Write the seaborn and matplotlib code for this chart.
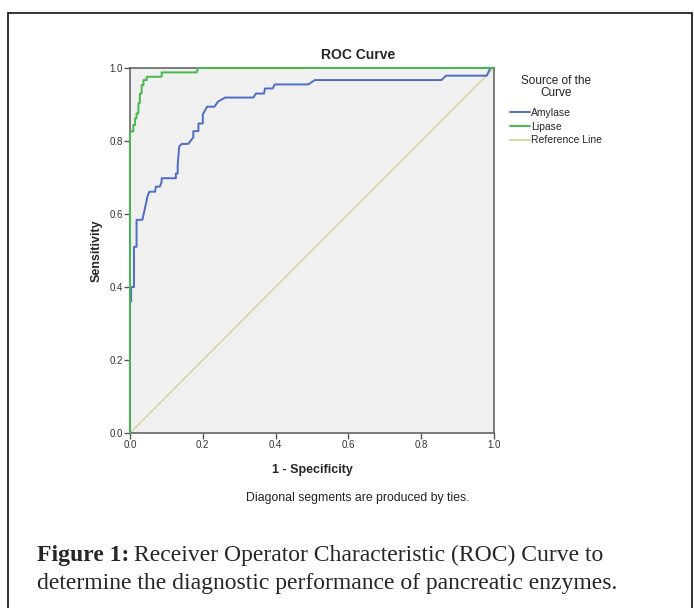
import matplotlib
matplotlib.use("Agg")
import matplotlib.pyplot as plt
import seaborn as sns
import pandas as pd
from matplotlib.patches import Rectangle
from matplotlib.lines import Line2D

# ---- data ----
amylase_fpr = [0.0, 0.0, 0.003, 0.003, 0.011, 0.011, 0.018, 0.018, 0.034, 0.046, 0.047, 0.053,
               0.069, 0.071, 0.082, 0.087, 0.087, 0.126, 0.126, 0.131, 0.131, 0.135, 0.142,
               0.160, 0.174, 0.174, 0.188, 0.188, 0.200, 0.200, 0.212, 0.232, 0.242, 0.261,
               0.339, 0.346, 0.368, 0.371, 0.392, 0.398, 0.490, 0.508, 0.856, 0.868, 0.980,
               0.990, 1.0]
amylase_tpr = [0.0, 0.36, 0.36, 0.40, 0.40, 0.51, 0.51, 0.584, 0.584, 0.638, 0.645, 0.661,
               0.661, 0.675, 0.675, 0.689, 0.698, 0.698, 0.711, 0.711, 0.734, 0.784, 0.792,
               0.792, 0.81, 0.827, 0.827, 0.848, 0.848, 0.873, 0.894, 0.894, 0.908, 0.919,
               0.919, 0.93, 0.93, 0.944, 0.944, 0.955, 0.955, 0.967, 0.967, 0.979, 0.979,
               1.0, 1.0]
lipase_fpr = [0.0, 0.0, 0.003, 0.009, 0.009, 0.014, 0.014, 0.018, 0.018, 0.023, 0.023, 0.027,
              0.027, 0.032, 0.032, 0.037, 0.037, 0.046, 0.046, 0.087, 0.087, 0.183, 0.187, 1.0]
lipase_tpr = [0.0, 0.826, 0.826, 0.826, 0.844, 0.844, 0.862, 0.862, 0.876, 0.876, 0.903, 0.903,
              0.93, 0.93, 0.953, 0.953, 0.967, 0.967, 0.976, 0.976, 0.988, 0.988, 1.0, 1.0]
ref_x = [0.0, 1.0]
ref_y = [0.0, 1.0]
tick_vals = [0.0, 0.2, 0.4, 0.6, 0.8, 1.0]
tick_labels = ["0.0", "0.2", "0.4", "0.6", "0.8", "1.0"]
series_names = ["Amylase", "Lipase", "Reference Line"]

c_amy = "#4f6cc4"
c_lip = "#45b94c"
c_ref = "#d9d3a2"

sns.set_style("white")
plt.rcParams["font.family"] = ["Liberation Sans", "DejaVu Sans"]

fig = plt.figure(figsize=(6.94, 6.08), dpi=100)
ax = fig.add_axes([130/694, 1-433/608, 364/694, 365/608])
ax.set_facecolor("#f0f0f0")

df_ref = pd.DataFrame({"x": ref_x, "y": ref_y})
df_amy = pd.DataFrame({"x": amylase_fpr, "y": amylase_tpr})
df_lip = pd.DataFrame({"x": lipase_fpr, "y": lipase_tpr})

sns.lineplot(data=df_ref, x="x", y="y", sort=False, estimator=None, color=c_ref, lw=1.1, ax=ax, zorder=2)
sns.lineplot(data=df_amy, x="x", y="y", sort=False, estimator=None, color=c_amy, lw=1.4, ax=ax, zorder=3)
sns.lineplot(data=df_lip, x="x", y="y", sort=False, estimator=None, color=c_lip, lw=1.4, ax=ax, zorder=4)

ax.set_xlim(0, 1)
ax.set_ylim(0, 1)
ax.set_xticks(tick_vals)
ax.set_xticklabels(tick_labels)
ax.set_yticks(tick_vals)
ax.set_yticklabels(tick_labels)
ax.tick_params(axis="both", direction="out", length=4, width=1, color="#555555",
               labelsize=7, labelcolor="#333333", pad=1)
ax.tick_params(axis="x", bottom=True)
ax.tick_params(axis="y", left=True)
for s in ax.spines.values():
    s.set_visible(True)
    s.set_color("#666666")
    s.set_linewidth(1.2)
for ln in ax.lines:
    ln.set_clip_on(False)

ax.set_xlabel("1 - Specificity", fontsize=9, fontweight="bold", labelpad=10)
ax.set_ylabel("Sensitivity", fontsize=9, fontweight="bold", labelpad=5)

fig.text(358/694, 1-55/608, "ROC Curve", ha="center", va="center", fontsize=10, fontweight="bold")
fig.text(358/694, 1-498/608, "Diagonal segments are produced by ties.", ha="center", va="center",
         fontsize=8.8, color="#222222")

# legend
fig.text(556/694, 1-87/608, "Source of the\nCurve", ha="center", va="center", fontsize=8.5,
         linespacing=1.05, color="#222222")
handles = [Line2D([], [], color=c, lw=1.4) for c in (c_amy, c_lip, c_ref)]
fig.legend(handles, series_names, loc="upper left", bbox_to_anchor=(510/694, 1-108/608),
           frameon=False, fontsize=7.5, handlelength=1.9, handletextpad=0.15,
           labelspacing=0.35, borderaxespad=0, borderpad=0)

# caption
cap_font = ["Liberation Serif", "DejaVu Serif"]
t1 = fig.text(37/694, 1-555/608, "Figure 1:", ha="left", va="center", fontsize=17,
              fontweight="bold", family=cap_font)
fig.canvas.draw()
bb = t1.get_window_extent()
x2 = (bb.x1 + 5) / fig.bbox.width
fig.text(x2, 1-555/608, "Receiver Operator Characteristic (ROC) Curve to", ha="left", va="center",
         fontsize=17, family=cap_font)
fig.text(37/694, 1-584/608, "determine the diagnostic performance of pancreatic enzymes.",
         ha="left", va="center", fontsize=17, family=cap_font)

# outer frame
fig.patches.append(Rectangle((8/694, -0.01), 684/694, 1-13/608 + 0.01, transform=fig.transFigure,
                             fill=False, edgecolor="#111111", lw=1.2))

fig.savefig("out.png", dpi=100)
